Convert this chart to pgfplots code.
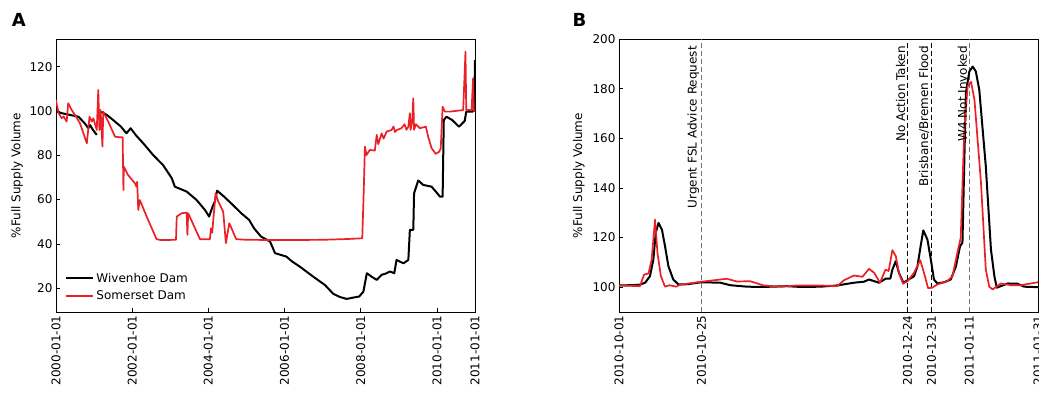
\documentclass[border=0pt]{standalone}
\usepackage{fontspec}
\setmainfont{DejaVu Sans}
\usepackage{pgfplots}
\pgfplotsset{compat=1.18}
\definecolor{myred}{RGB}{235,32,38}
\begin{document}
\begin{tikzpicture}
\pgfplotsset{
  myaxis/.style={
    scale only axis, width=419pt, height=273pt,
    tick align=inside, xtick pos=bottom, ytick pos=left,
    major tick length=4pt,
    tick style={black, line width=0.6pt},
    axis line style={line width=0.9pt},
    every tick label/.append style={font=\fontsize{12}{14}\selectfont},
    xticklabel style={rotate=90, anchor=east},
    /pgf/number format/assume math mode=true,
    label style={font=\fontsize{12}{14}\selectfont},
    ylabel={\%Full Supply Volume},
    unbounded coords=jump,
  },
  blk/.style={black, line width=2pt, line join=round},
  rd/.style={myred, line width=1.7pt, line join=round},
}
\begin{axis}[myaxis, at={(0,0)}, anchor=south west,
  xmin=2000, xmax=2011, ymin=9.2, ymax=132.5,
  xtick={2000,2002,2004,2006,2008,2010,2011},
  xticklabels={2000-01-01,2002-01-01,2004-01-01,2006-01-01,2008-01-01,2010-01-01,2011-01-01},
  ytick={20,40,60,80,100,120},
  ylabel style={at={(axis description cs:-0.093,0.5)}, anchor=center},
  legend cell align=left,
  legend style={at={(axis description cs:0.015,0.025)}, anchor=south west, draw=none, fill=none,
    font=\fontsize{12}{14}\selectfont, row sep=3pt},
  legend image code/.code={\draw[#1] (0pt,0pt) -- (27pt,0pt);},
]
\addplot[blk] coordinates {
(2000.00,101)(2000.05,99.5)(2000.15,99)(2000.37,98.2)(2000.59,97.4)(2000.75,94.5)(2000.85,92.2)(2000.89,93.7)(2000.97,91.5)(2001.07,89.2)
(2001.12,nan)
(2001.19,99.7)(2001.35,98)(2001.50,95.9)(2001.70,93)(2001.85,89.9)(2001.96,92.2)(2002.10,89)(2002.29,85.4)(2002.55,80.1)(2002.81,75.6)(2003.04,69.6)(2003.12,65.8)(2003.43,63.6)(2003.69,59.8)(2003.91,55.3)(2004.02,52.3)(2004.11,56.8)(2004.17,59.1)(2004.23,64.0)(2004.40,61.5)(2004.64,57.6)(2004.85,54)(2005.07,50.8)(2005.20,47)(2005.38,43.3)(2005.62,41.0)(2005.75,35.8)(2006.05,34.2)(2006.20,32)(2006.40,29.7)(2006.75,25.2)(2007.06,21.4)(2007.28,17.4)(2007.45,16)(2007.63,15.1)(2007.80,15.7)(2007.96,16.2)(2008.07,18.4)(2008.16,26.7)(2008.30,25)(2008.42,23.7)(2008.55,26.0)(2008.65,26.5)(2008.77,27.5)(2008.88,26.7)(2008.94,32.7)(2009.12,31.2)(2009.25,32.7)(2009.29,46.3)(2009.38,46.3)(2009.40,62.8)(2009.51,68.6)(2009.64,66.6)(2009.86,65.8)(2010.00,63)(2010.08,61.3)(2010.15,61.3)(2010.18,95.9)(2010.25,97.4)(2010.40,95.9)(2010.58,92.9)(2010.73,95.5)(2010.77,99.7)(2010.94,99.7)(2010.98,101)(2011.00,123)
};
\addlegendentry{Wivenhoe Dam}
\addplot[rd] coordinates {
(2000.00,105)(2000.02,103)(2000.07,99)(2000.15,96.7)(2000.20,97.5)(2000.28,95.2)(2000.32,103.5)(2000.41,100.5)(2000.50,98.2)(2000.63,94.4)(2000.72,89.9)(2000.81,85.4)(2000.88,97.4)(2000.94,95.2)(2000.98,96.7)(2001.07,91.4)(2001.11,109.5)(2001.14,91.4)(2001.17,100.5)(2001.22,83.9)(2001.24,99.7)(2001.37,95.2)(2001.55,88.4)(2001.68,88.1)(2001.75,88.1)(2001.77,64.3)(2001.78,74.9)(2001.89,71.1)(2002.07,67.4)(2002.11,65.8)(2002.13,68)(2002.16,55.3)(2002.20,59.8)(2002.38,52.3)(2002.64,42.1)(2002.75,41.7)(2003.15,41.8)(2003.17,52.3)(2003.30,53.8)(2003.43,54.1)(2003.45,44)(2003.47,53.8)(2003.78,42.1)(2004.04,42.1)(2004.07,47)(2004.10,45)(2004.19,62.8)(2004.26,59.1)(2004.39,54.5)(2004.46,40.3)(2004.55,49.3)(2004.73,42.1)(2005.00,41.8)(2006.00,41.7)(2007.00,41.8)(2007.70,42.2)(2008.04,42.5)(2008.08,64.3)(2008.11,83.9)(2008.15,80.1)(2008.24,82.4)(2008.37,82.1)(2008.42,89.2)(2008.46,85)(2008.55,89.9)(2008.60,87.5)(2008.68,90.7)(2008.81,91.4)(2008.86,93)(2008.90,90.5)(2008.95,91.4)(2009.07,92.2)(2009.15,94)(2009.20,91.5)(2009.25,92.9)(2009.29,99)(2009.31,91.5)(2009.35,95)(2009.38,105.7)(2009.40,91.5)(2009.45,94)(2009.55,92.2)(2009.71,92.9)(2009.77,88.4)(2009.86,83.2)(2009.97,80.6)(2010.06,81.6)(2010.10,83)(2010.15,101.9)(2010.21,99.7)(2010.34,99.7)(2010.69,100.4)(2010.75,126.8)(2010.77,100.4)(2010.91,100.4)(2010.95,114.7)(2010.97,100)(2011.00,100)
};
\addlegendentry{Somerset Dam}
\end{axis}
\begin{axis}[myaxis, at={(563pt,0)}, anchor=south west,
  xmin=0, xmax=122, ymin=90, ymax=200,
  xtick={0,24,84,91,102,122},
  xticklabels={2010-10-01,2010-10-25,2010-12-24,2010-12-31,2011-01-11,2011-01-31},
  ytick={100,120,140,160,180,200},
  ylabel style={at={(axis description cs:-0.0957,0.5)}, anchor=center},
]
\addplot[black!55, line width=1pt, dash pattern=on 5pt off 3pt] coordinates {(24,90)(24,200)};
\addplot[black, line width=1pt, dash pattern=on 5pt off 3pt] coordinates {(84,90)(84,200)};
\addplot[black, line width=1pt, dash pattern=on 5pt off 3pt] coordinates {(91,90)(91,200)};
\addplot[black!55, line width=1pt, dash pattern=on 5pt off 3pt] coordinates {(102,90)(102,200)};
\addplot[blk] coordinates {
(0,100.7)(3,100.8)(6,101)(7.6,101.8)(9,104.4)(10,111.1)(10.7,121.9)(11.5,125.9)(12.5,123.2)(13.4,116.5)(14.4,108.4)(15.8,103.1)(17.3,101.1)(20,101.2)(24,102)(29.5,101.8)(32.4,100.8)(37.3,100.2)(42,100.1)(48.9,100.4)(53,100.1)(58.7,100.2)(63.5,100.7)(68.4,101.8)(71.3,102.2)(72.8,103.1)(75.7,101.8)(77.6,103.4)(79,103.5)(79.6,107.1)(80.6,110.5)(81.5,105.8)(82.8,101.8)(84,102.8)(85.9,104.4)(86.9,108.4)(87.9,117.2)(88.6,122.9)(89.8,119.2)(90.8,111.1)(91.7,103.1)(92.7,101.5)(94.7,102)(96.6,103.1)(98.1,108.4)(99.3,116.5)(100,117.9)(101,178.2)(102,186.9)(103,188.9)(103.9,186.9)(104.9,179.5)(106.8,148.7)(108.3,115.2)(109.3,104.4)(110,99.8)(111.7,100.7)(113.2,101.5)(116,101.4)(118,100.2)(122,100)
};
\addplot[rd] coordinates {
(0,100.7)(6.1,100.4)(7.3,105.1)(8.6,105.5)(9.5,111.1)(10.5,127.2)(11.2,113.8)(12.2,104.4)(13.4,100.2)(14.7,100.8)(16.6,100.2)(17.8,101)(24,102.2)(31.4,103.4)(34.3,102.3)(38.2,102.4)(42.1,100.7)(47,100.2)(51.9,100.7)(58.7,100.7)(63.5,100.4)(65.5,102.8)(68.4,104.7)(70.9,104.2)(72.8,107.4)(74.3,105.8)(76,101.8)(77.6,107.1)(78.5,106.5)(79.6,114.9)(80.6,112.5)(81.5,105.8)(82.7,101.4)(84,102.4)(85.9,105.8)(87.7,110.9)(88.8,105.8)(90,99.6)(91.2,99.8)(92.7,101.1)(95.6,102.4)(97.1,104.4)(98.5,113.8)(99.5,119.9)(100.5,162.1)(101.5,180.8)(102.5,182.8)(103.5,175.5)(105.4,142)(106.8,107.1)(107.8,100.2)(108.8,99.1)(111.2,101.5)(114.1,100.8)(117,100.8)(122,102)
};
\node[rotate=90, anchor=south east, inner sep=2pt, font=\fontsize{12}{14}\selectfont] at (axis cs:24,198) {Urgent FSL Advice Request};
\node[rotate=90, anchor=south east, inner sep=2pt, font=\fontsize{12}{14}\selectfont] at (axis cs:84,198) {No Action Taken};
\node[rotate=90, anchor=south east, inner sep=2pt, font=\fontsize{12}{14}\selectfont] at (axis cs:91,198) {Brisbane/Bremen Flood};
\node[rotate=90, anchor=south east, inner sep=2pt, font=\fontsize{12}{14}\selectfont] at (axis cs:102,198) {W4 Not Invoked};
\end{axis}
\node[anchor=base west, inner sep=0pt, font=\bfseries\fontsize{18}{20}\selectfont] at (-44.3pt,285.3pt) {A};
\node[anchor=base west, inner sep=0pt, font=\bfseries\fontsize{18}{20}\selectfont] at (516.3pt,285.3pt) {B};
\pgfresetboundingbox
\useasboundingbox (-56pt,-80pt) rectangle (983pt,312pt);
\end{tikzpicture}
\end{document}
